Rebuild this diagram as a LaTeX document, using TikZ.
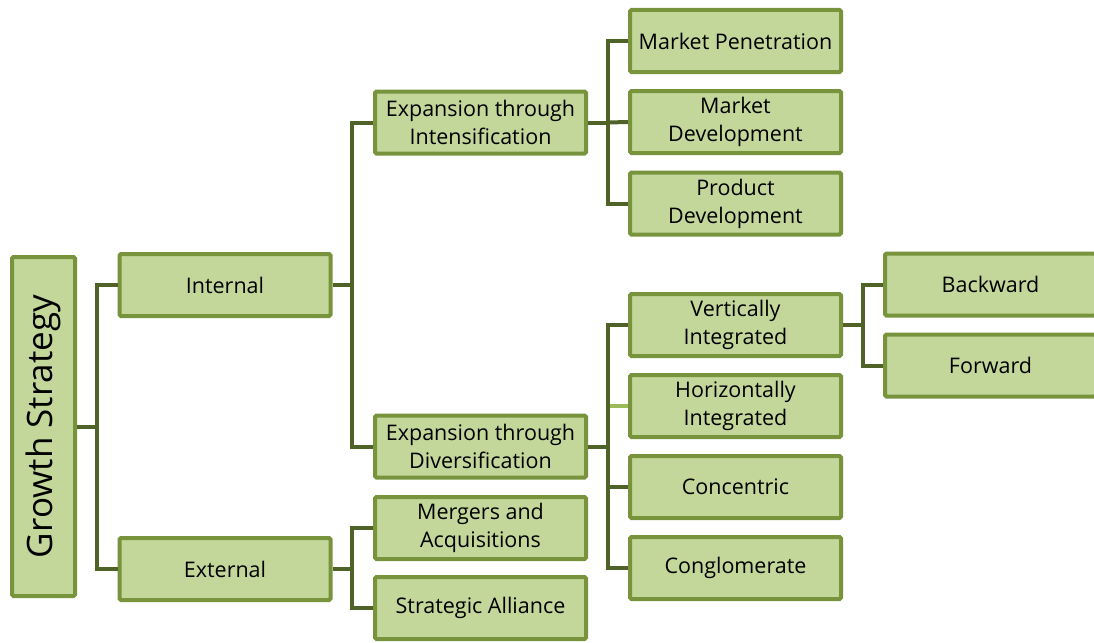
\documentclass[tikz,border=0pt]{standalone}
\usepackage{fontspec}
\setmainfont{Open Sans}
\definecolor{boxfill}{RGB}{196, 215, 155}
\definecolor{boxline}{RGB}{119, 147, 60}
\definecolor{linkline}{RGB}{79, 98, 40}
\definecolor{lightlink}{RGB}{155, 187, 89}
\tikzset{
  box/.style={draw=boxline, fill=boxfill, line width=4pt, rounded corners=1.5pt,
    minimum width=211pt, minimum height=62pt, align=center,
    font=\fontsize{21.5}{28}\selectfont, inner sep=1pt},
  link/.style={draw=linkline, line width=4pt}
}
\begin{document}
\begin{tikzpicture}[x=1pt, y=-1pt]
                    \useasboundingbox (0,0) rectangle (1094,642);
                    \clip (0,0) rectangle (1094,642);
                    % level 1
                    \node[box, minimum width=63pt, minimum height=339pt] (gs) at (43.5,426.5) {};
                    \node[rotate=90, font=\fontsize{35}{40}\selectfont] (gstext) at (gs.center) {Growth Strategy};
                    % level 2
                    \node[box] (int) at (225,285) {Internal};
                    \node[box] (ext) at (225,569) {External};
                    % level 3
                    \node[box] (ins) at (480.5,122.5) {Expansion through\\Intensification};
                    \node[box] (div) at (480.5,446.5) {Expansion through\\Diversification};
                    \node[box] (mer) at (480.5,528) {Mergers and\\Acquisitions};
                    \node[box] (all) at (480.5,608) {Strategic Alliance};
                    % level 4
                    \node[box] (pen) at (735.5,41) {Market Penetration};
                    \node[box] (mde) at (735.5,122) {Market\\Development};
                    \node[box] (pde) at (735.5,203.5) {Product\\Development};
                    \node[box] (ver) at (735.5,325) {Vertically\\Integrated};
                    \node[box] (hor) at (735.5,406) {Horizontally\\Integrated};
                    \node[box] (con) at (735.5,487) {Concentric};
                    \node[box] (cgl) at (735.5,568) {Conglomerate};
                    % level 5
                    \node[box] (bwd) at (990.5,284.5) {Backward};
                    \node[box] (fwd) at (990.5,365.5) {Forward};

                    \coordinate (b1) at (97,426.5);
                    \coordinate (b2) at (352,285);
                    \coordinate (b3) at (352,569);
                    \coordinate (b4) at (608,122.5);
                    \coordinate (b5) at (608,446.5);
                    \coordinate (b6) at (863,325);

                    \draw[lightlink, line width=4pt] (hor.west) -- (608,406);
                    \draw[link] (gs.east) -- (b1);
                    \draw[link] (int.west) -| (b1) |- (ext.west);
                    \draw[link] (int.east) -- (b2);
                    \draw[link] (ins.west) -| (b2) |- (div.west);
                    \draw[link] (ext.east) -- (b3);
                    \draw[link] (mer.west) -| (b3) |- (all.west);
                    \draw[link] (ins.east) -- (b4);
                    \draw[link] (pen.west) -| (b4) |- (pde.west);
                    \draw[link] (mde.west) -- (b4);
                    \draw[link] (div.east) -- (b5);
                    \draw[link] (ver.west) -| (b5) |- (cgl.west);
                    \draw[link] (con.west) -- (608,487);
                    \draw[link] (ver.east) -- (b6);
                    \draw[link] (bwd.west) -| (b6) |- (fwd.west);
                \end{tikzpicture}
\end{document}
